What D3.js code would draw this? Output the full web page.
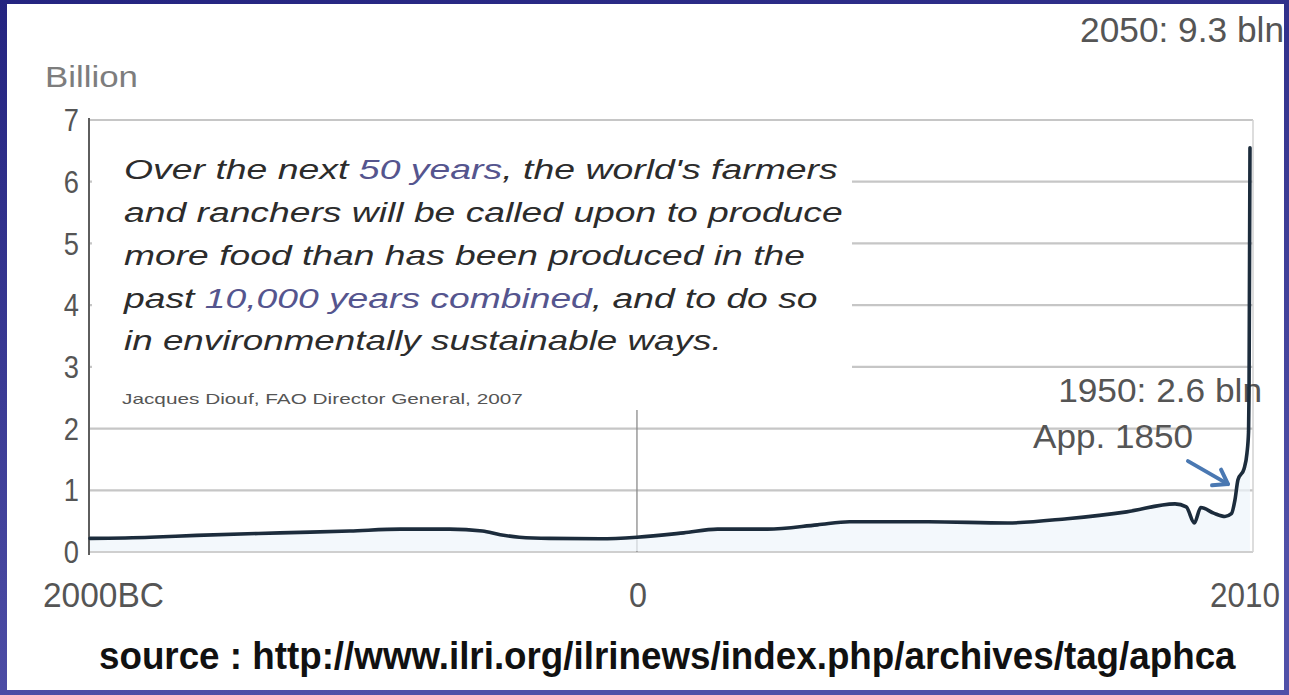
<!DOCTYPE html>
<html>
<head>
<meta charset="utf-8">
<script src="https://cdn.jsdelivr.net/npm/d3@7"></script>
<style>
  html, body { margin: 0; padding: 0; background: #fff; }
  svg { display: block; }
</style>
</head>
<body>
<svg id="chart" width="1289" height="695"></svg>
<script>
// World population through history, in billions
const years = [-2000, -1780, -1610, -1305, -1050, -865, -685, -565, -500, -430, -320, -135,
  0, 145, 250, 405, 560, 660, 905, 1150, 1335, 1520, 1670, 1705, 1730, 1750, 1790, 1825,
  1845, 1862, 1881, 1919, 1937, 1947, 1950, 2010];
const population = [0.22, 0.24, 0.27, 0.31, 0.34, 0.37, 0.37, 0.34, 0.28, 0.24, 0.22, 0.215,
  0.24, 0.31, 0.37, 0.37, 0.44, 0.49, 0.49, 0.47, 0.54, 0.65, 0.78, 0.73, 0.47, 0.72, 0.63, 0.575,
  0.62, 0.84, 1.17, 1.35, 1.6, 1.95, 2.6, 6.55];

// Axis breakpoints: the time axis is compressed toward the present
const axisYears = [-2000, 0, 1850, 1950, 2010];
const axisFractions = [0, 0.4703, 0.9828, 0.9966, 0.9974];

const xTickYears = [-2000, 0, 2010];
const xTickLabels = ["2000BC", "0", "2010"];
const yTicks = [0, 1, 2, 3, 4, 5, 6, 7];

const quoteLines = [
  [["Over the next ", false], ["50 years", true], [", the world's farmers", false]],
  [["and ranchers will be called upon to produce", false]],
  [["more food than has been produced in the", false]],
  [["past ", false], ["10,000 years combined", true], [", and to do so", false]],
  [["in environmentally sustainable ways.", false]]
];
const quoteWidths = [714, 719, 681, 694, 598];
const quoteCredit = "Jacques Diouf, FAO Director General, 2007";
const sourceText = "source : http://www.ilri.org/ilrinews/index.php/archives/tag/aphca";

const W = 1289, H = 695;
const plot = { left: 90, right: 1253, top: 120, bottom: 552 };
const pw = plot.right - plot.left;

const svg = d3.select("#chart");
const FONT = "'Liberation Sans', Arial, Helvetica, sans-serif";

const x = d3.scaleLinear()
  .domain(axisYears)
  .range(axisFractions.map(f => plot.left + f * pw));
const y = d3.scaleLinear().domain([0, 7]).range([plot.bottom, plot.top]);

// stretch a text horizontally so it spans the given width
function fit(t, target, ax) {
  const w = t.node().getComputedTextLength();
  const s = target / w;
  t.attr("transform", `translate(${ax},0) scale(${s},1) translate(${-ax},0)`);
  return t;
}

// slide frame
const defs = svg.append("defs");
const grad = defs.append("linearGradient").attr("id", "frame")
  .attr("x1", 0).attr("y1", 0).attr("x2", 0.3).attr("y2", 1);
grad.append("stop").attr("offset", "0%").attr("stop-color", "#242480");
grad.append("stop").attr("offset", "100%").attr("stop-color", "#5050a8");
svg.append("rect").attr("width", W).attr("height", H).attr("fill", "url(#frame)");
svg.append("rect").attr("x", 7).attr("y", 4).attr("width", W - 12).attr("height", H - 9)
  .attr("fill", "#ffffff");

// gridlines
svg.append("g").selectAll("line").data(yTicks.filter(d => d > 0)).join("line")
  .attr("x1", plot.left).attr("x2", plot.right)
  .attr("y1", d => y(d)).attr("y2", d => y(d))
  .attr("stroke", "#c6c6c6").attr("stroke-width", 2.2);

// plot frame bottom and right
svg.append("line").attr("x1", plot.left).attr("x2", plot.right)
  .attr("y1", plot.bottom).attr("y2", plot.bottom)
  .attr("stroke", "#cfcfcf").attr("stroke-width", 2);
svg.append("line").attr("x1", plot.right).attr("x2", plot.right)
  .attr("y1", plot.top).attr("y2", plot.bottom)
  .attr("stroke", "#d2d2d2").attr("stroke-width", 1.5);

// quote panel covers the upper gridlines
const quoteBox = { x: plot.left + 2, y: plot.top + 5, w: 760, h: 285 };
svg.append("rect").attr("x", quoteBox.x).attr("y", quoteBox.y)
  .attr("width", quoteBox.w).attr("height", quoteBox.h).attr("fill", "#ffffff");

// year zero marker
svg.append("line").attr("x1", x(0)).attr("x2", x(0))
  .attr("y1", quoteBox.y + quoteBox.h).attr("y2", plot.bottom)
  .attr("stroke", "#8a8a8a").attr("stroke-width", 1.3);

// value axis line
svg.append("line").attr("x1", plot.left - 1).attr("x2", plot.left - 1)
  .attr("y1", plot.top - 2).attr("y2", plot.bottom + 3)
  .attr("stroke", "#5e5e5e").attr("stroke-width", 2);

// soft fill under the curve
const pts = years.map((yr, i) => [yr, population[i]]);
svg.append("path").datum(pts)
  .attr("d", d3.area().x(d => x(d[0])).y0(plot.bottom - 1).y1(d => y(d[1])).curve(d3.curveMonotoneX))
  .attr("fill", "#eef5fb").attr("opacity", 0.7);

// y tick labels
const yl = svg.append("g").selectAll("text").data(yTicks).join("text")
  .attr("x", 79).attr("y", d => y(d)).attr("dy", "0.36em")
  .attr("text-anchor", "end")
  .attr("font-family", FONT).attr("font-size", 31).attr("fill", "#555")
  .text(d => d);
yl.each(function () { fit(d3.select(this), this.getComputedTextLength() * 0.88, 79); });

const billion = svg.append("text").attr("x", 45).attr("y", 87)
  .attr("font-family", FONT).attr("font-size", 29).attr("fill", "#7d7d7d").text("Billion");
fit(billion, 93, 45);

// x tick labels
const xl = svg.append("g").attr("font-family", FONT).attr("font-size", 35).attr("fill", "#555");
const t0 = xl.append("text").attr("x", x(xTickYears[0]) - 47).attr("y", 607).text(xTickLabels[0]);
fit(t0, 121, x(xTickYears[0]) - 47);
const t1 = xl.append("text").attr("x", x(xTickYears[1]) + 1).attr("y", 607).attr("text-anchor", "middle")
  .text(xTickLabels[1]);
fit(t1, 18, x(xTickYears[1]) + 1);
const t2 = xl.append("text").attr("x", x(xTickYears[2]) + 30).attr("y", 607)
  .attr("text-anchor", "end").text(xTickLabels[2]);
fit(t2, 70, x(xTickYears[2]) + 30);

// annotations
const ann = svg.append("g").attr("font-family", FONT).attr("fill", "#555");
const a2050 = ann.append("text").attr("x", 1284).attr("y", 42).attr("text-anchor", "end")
  .attr("font-size", 35).text("2050: 9.3 bln");
fit(a2050, 204, 1284);
const a1950 = ann.append("text").attr("x", x(1950) + 13).attr("y", y(2.6) + 10.5)
  .attr("text-anchor", "end").attr("font-size", 34).text("1950: 2.6 bln");
fit(a1950, 204, x(1950) + 13);
const a1850 = ann.append("text").attr("x", x(1850) - 40).attr("y", 448)
  .attr("text-anchor", "end").attr("font-size", 33).text("App. 1850");
fit(a1850, 160, x(1850) - 40);

// population curve
svg.append("path").datum(pts)
  .attr("d", d3.line().x(d => x(d[0])).y(d => y(d[1])).curve(d3.curveMonotoneX))
  .attr("fill", "none").attr("stroke", "#1c2c3c").attr("stroke-width", 3.6)
  .attr("stroke-linejoin", "round").attr("stroke-linecap", "round");

// arrow toward 1850
const tip = [x(1850) - 5, y(1.1)];
const tail = [tip[0] - 40, tip[1] - 23];
const ang = Math.atan2(tip[1] - tail[1], tip[0] - tail[0]);
const hl = 16, ha = 0.6;
const h1 = [tip[0] - hl * Math.cos(ang - ha), tip[1] - hl * Math.sin(ang - ha)];
const h2 = [tip[0] - hl * Math.cos(ang + ha), tip[1] - hl * Math.sin(ang + ha)];
const arrow = svg.append("g").attr("stroke", "#4a78b2").attr("stroke-width", 4)
  .attr("fill", "none").attr("stroke-linecap", "round").attr("stroke-linejoin", "round");
arrow.append("line").attr("x1", tail[0]).attr("y1", tail[1]).attr("x2", tip[0]).attr("y2", tip[1]);
arrow.append("polyline").attr("points", [h1, tip, h2].map(p => p.join(",")).join(" "));

// quote
const q = svg.append("g").attr("font-family", FONT).attr("font-style", "italic")
  .attr("font-size", 27).attr("fill", "#2c2c2c");
const baselines = [179, 222, 265, 308, 350];
quoteLines.forEach((parts, i) => {
  const t = q.append("text").attr("x", 124).attr("y", baselines[i]);
  parts.forEach(([s, hi]) => t.append("tspan").attr("fill", hi ? "#55558e" : null).text(s));
  fit(t, quoteWidths[i], 124);
});
const credit = svg.append("text").attr("x", 122).attr("y", 404)
  .attr("font-family", FONT).attr("font-size", 14).attr("fill", "#555").text(quoteCredit);
fit(credit, 401, 122);

// source line
const src = svg.append("text").attr("x", 99).attr("y", 669)
  .attr("font-family", "'Liberation Sans Narrow', 'Liberation Sans', Arial, sans-serif")
  .attr("font-weight", "bold").attr("font-size", 39).attr("fill", "#111").text(sourceText);
fit(src, 1137, 99);
</script>
</body>
</html>
